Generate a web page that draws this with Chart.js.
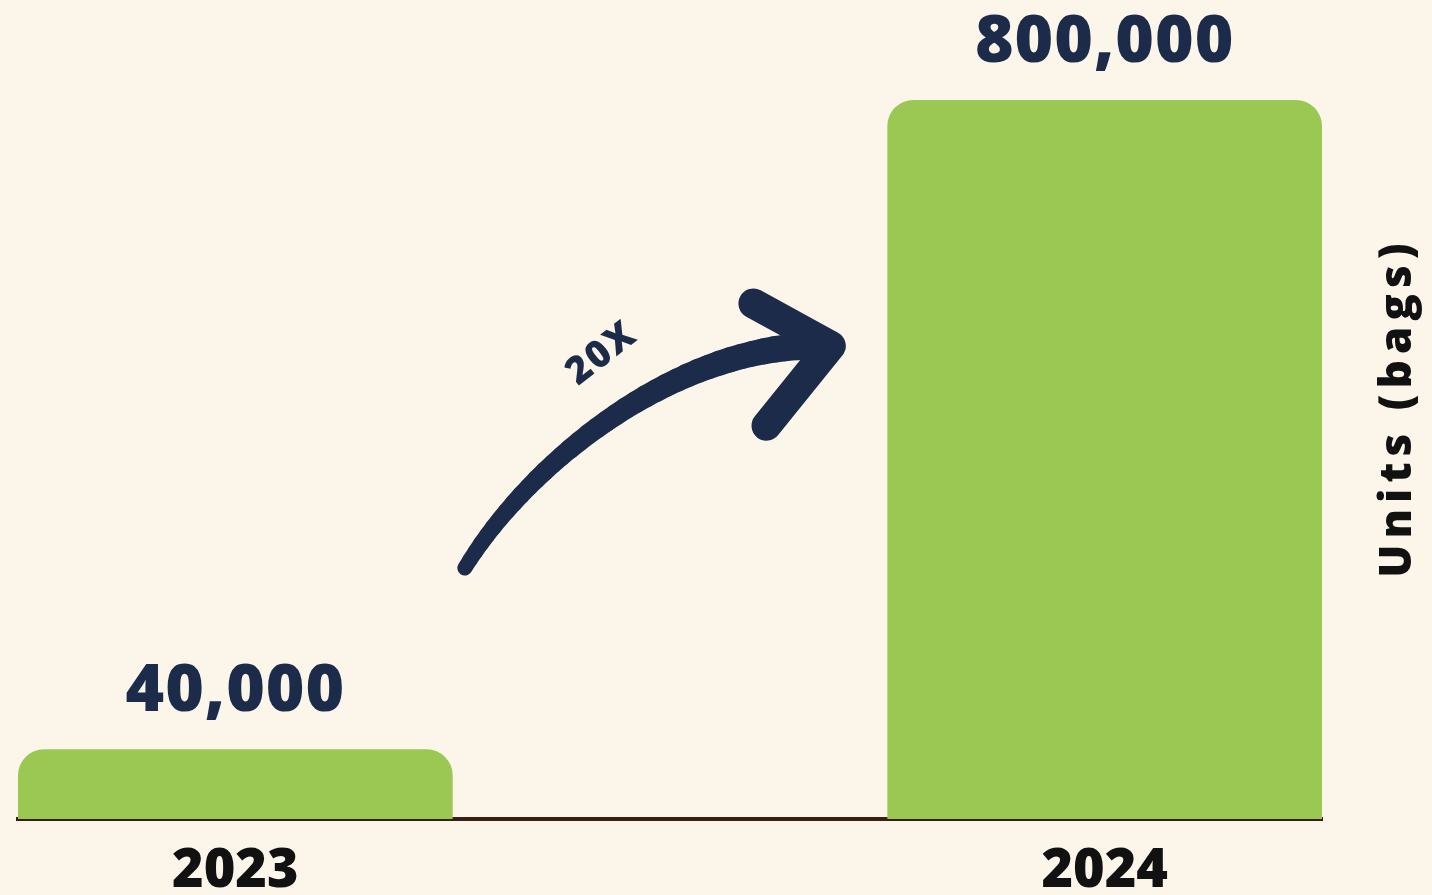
<!DOCTYPE html>
<html>
<head>
<meta charset="utf-8">
<title>Units (bags) 2023 vs 2024</title>
<script src="https://cdn.jsdelivr.net/npm/chart.js@4"></script>
<style>
  html, body { margin: 0; padding: 0; background: #fcf5ea; }
  #wrap { width: 1432px; height: 895px; position: relative; }
</style>
</head>
<body>
<div id="wrap"><canvas id="unitsChart"></canvas></div>
<script>
// data
const years = [2023, 2024];
const units = [40000, 800000];
const valueLabels = ['40,000', '800,000'];
const growthLabel = '20X';
const axisTitle = 'Units (bags)';

const navy = '#1b2b49';
const green = '#9bc852';
const fontFamily = "'Open Sans', 'DejaVu Sans', sans-serif";

// numbers above each bar
const valueLabelPlugin = {
  id: 'valueLabels',
  afterDatasetsDraw(chart) {
    const ctx = chart.ctx;
    const meta = chart.getDatasetMeta(0);
    ctx.save();
    ctx.fillStyle = navy;
    ctx.font = '800 66px ' + fontFamily;
    ctx.letterSpacing = '1px';
    ctx.textAlign = 'center';
    ctx.textBaseline = 'alphabetic';
    meta.data.forEach((bar, i) => {
      ctx.fillText(valueLabels[i], bar.x, bar.y - 38);
    });
    ctx.restore();
  }
};

// rotated axis title on the right, reading bottom to top
const sideTitlePlugin = {
  id: 'sideTitle',
  afterDraw(chart) {
    const { ctx, chartArea } = chart;
    ctx.save();
    ctx.translate(chartArea.right + 76, chartArea.top + (chartArea.bottom - chartArea.top) * 0.432);
    ctx.rotate(-Math.PI / 2);
    ctx.fillStyle = '#111111';
    ctx.font = '800 44px ' + fontFamily;
    ctx.letterSpacing = '6px';
    ctx.textAlign = 'center';
    ctx.textBaseline = 'middle';
    ctx.fillText(axisTitle, 3, 0);
    ctx.restore();
  }
};

// curved growth arrow between the two bars
const arrowPlugin = {
  id: 'growthArrow',
  afterDatasetsDraw(chart) {
    const { ctx, chartArea, scales } = chart;
    const h = chartArea.bottom - chartArea.top;
    const px = v => scales.x.getPixelForValue(v);
    const py = f => chartArea.top + h * f;
    const p0 = [px(2023.264), py(0.651)];
    const c1 = [px(2023.339), py(0.502)];
    const c2 = [px(2023.512), py(0.334)];
    const p3 = [px(2023.685), py(0.342)];
    const pt = t => {
      const a = (1 - t) ** 3, b = 3 * t * (1 - t) ** 2, c = 3 * t * t * (1 - t), d = t ** 3;
      return [a * p0[0] + b * c1[0] + c * c2[0] + d * p3[0], a * p0[1] + b * c1[1] + c * c2[1] + d * p3[1]];
    };
    ctx.save();
    ctx.strokeStyle = navy;
    ctx.lineCap = 'round';
    ctx.lineJoin = 'round';
    const n = 40;
    for (let i = 0; i < n; i++) {
      const a = pt(i / n), b = pt((i + 1) / n);
      ctx.lineWidth = 15 + 13 * (i / n);
      ctx.beginPath();
      ctx.moveTo(a[0], a[1]);
      ctx.lineTo(b[0], b[1]);
      ctx.stroke();
    }
    // arrow head
    ctx.lineWidth = 30;
    ctx.beginPath();
    ctx.moveTo(px(2023.596), py(0.283));
    ctx.lineTo(p3[0], p3[1]);
    ctx.lineTo(px(2023.611), py(0.453));
    ctx.stroke();
    // label along the arrow
    ctx.translate(px(2023.422), py(0.353));
    ctx.rotate(-38 * Math.PI / 180);
    ctx.fillStyle = navy;
    ctx.font = '800 38px ' + fontFamily;
    ctx.letterSpacing = '2px';
    ctx.textAlign = 'center';
    ctx.textBaseline = 'middle';
    ctx.fillText(growthLabel, 0, 0);
    ctx.restore();
  }
};

const ctx = document.getElementById('unitsChart').getContext('2d');
const unitsChart = new Chart(ctx, {
  type: 'bar',
  data: {
    datasets: [{
      data: years.map((y, i) => ({ x: y, y: units[i] })),
      backgroundColor: green,
      borderRadius: { topLeft: 26, topRight: 26, bottomLeft: 0, bottomRight: 0 },
      borderSkipped: false,
      categoryPercentage: 1,
      barPercentage: 0.5
    }]
  },
  options: {
    responsive: true,
    maintainAspectRatio: false,
    animation: false,
    layout: { padding: { top: 100, left: 18, right: 110, bottom: 0 } },
    plugins: {
      legend: { display: false },
      tooltip: { enabled: false }
    },
    scales: {
      x: {
        type: 'linear',
        offset: false,
        min: 2022.75,
        max: 2024.25,
        grid: { display: false, drawTicks: false },
        border: { display: true, color: '#3a1d14', width: 4 },
        afterFit: scale => { scale.height = 76; },
        ticks: {
          stepSize: 1,
          includeBounds: false,
          padding: 26,
          color: '#111111',
          font: { family: fontFamily, size: 54, weight: '800', lineHeight: 1 },
          callback: v => String(v)
        }
      },
      y: {
        type: 'logarithmic',
        display: false,
        min: 29000,
        max: 800000
      }
    }
  },
  plugins: [valueLabelPlugin, sideTitlePlugin, arrowPlugin]
});
</script>
</body>
</html>
